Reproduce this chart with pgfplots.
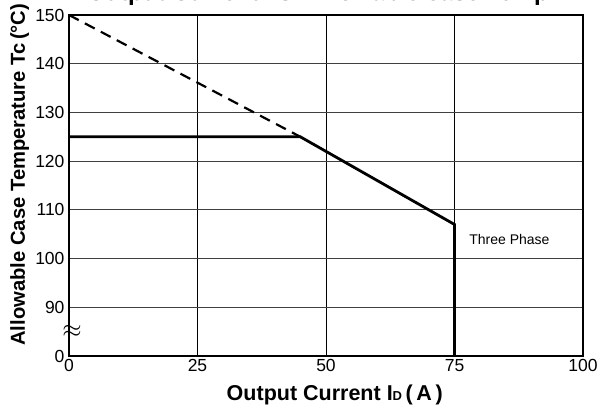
\documentclass[border=0pt]{standalone}
\usepackage{pgfplots}
\pgfplotsset{compat=1.18}
\usepackage{fontspec}
\setmainfont{Liberation Sans}

\begin{document}
\begin{tikzpicture}
\begin{axis}[
    scale only axis,
    width=514pt, height=341pt,
    xmin=0, xmax=100, ymin=80, ymax=150,
    xtick={0,25,50,75,100},
    ytick={80,90,100,110,120,130,140,150},
    yticklabels={0,90,100,110,120,130,140,150},
    major tick length=0pt,
    grid=major,
    x grid style={black, line width=0.8pt},
    y grid style={black!75, line width=0.8pt},
    axis line style={black, line width=1.2pt},
    /pgf/number format/assume math mode=true,
    ticklabel style={font=\fontsize{17.5}{17.5}\selectfont},
    yticklabel style={xshift=-1pt},
    xlabel={Output Current I{\fontsize{13}{13}\selectfont D}\,(\,A\,)},
    xlabel style={font=\bfseries\fontsize{21.5}{21.5}\selectfont,
        at={([yshift=-45pt]axis description cs:0.300,0)}, anchor=base west},
    ylabel={Allowable Case Temperature Tc\,(\textdegree C)},
    ylabel style={font=\bfseries\fontsize{20.2}{20.2}\selectfont,
        at={([xshift=-44pt]axis description cs:0,0.020)}, anchor=base west},
    title={Output Current vs. Allowable case Temp},
    title style={font=\bfseries\fontsize{24}{24}\selectfont,
        at={([yshift=8pt]axis description cs:0.484,1)}, anchor=base},
    clip=false,
]
% derating, extrapolated part
\addplot[black, line width=2.2pt, dash pattern=on 11pt off 7pt] coordinates {
    (0,150) (45,125)
};
% derating curve
\addplot[black, line width=2.8pt] coordinates {
    (0,125) (45,125) (75,107) (75,80)
};
\node[anchor=base west, font=\fontsize{14}{14}\selectfont] at (axis cs:77.2,102.8) {Three Phase};
\node[font=\fontsize{24}{24}\selectfont, inner sep=0pt] at (axis cs:0.6,85) {$\approx$};
\end{axis}
\pgfresetboundingbox
\path[use as bounding box] (-69pt,-53pt) rectangle (531pt,356pt);
\end{tikzpicture}
\end{document}
